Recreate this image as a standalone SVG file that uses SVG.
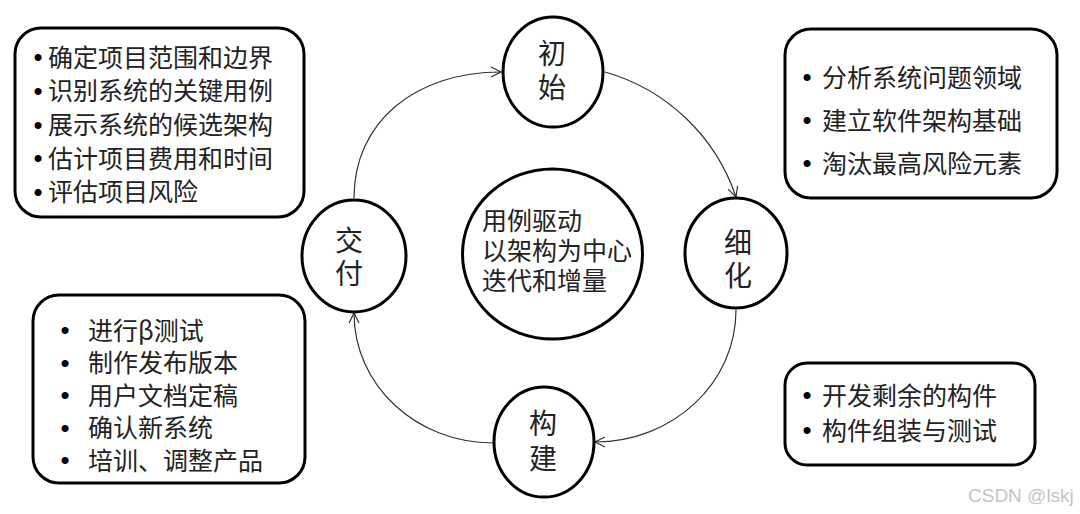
<svg xmlns="http://www.w3.org/2000/svg" width="1080" height="514" viewBox="0 0 1080 514">
<style>
.box{fill:#fff;stroke:#000;stroke-width:3}
.node{fill:#fff;stroke:#000;stroke-width:3}
.t{font-family:"Noto Sans CJK SC","Noto Sans",sans-serif;font-size:25px;fill:#222}
.lbl{font-family:"Noto Sans CJK SC","Noto Sans",sans-serif;font-size:28px;fill:#222;text-anchor:middle}
.b{font-family:"Liberation Sans",sans-serif;font-size:26px;fill:#000;text-anchor:middle}
.edge{fill:none;stroke:#333;stroke-width:1.2;marker-end:url(#arr)}
.wm{font-family:"Liberation Sans",Arial,sans-serif;font-size:19px;fill:#c4c4c4}
</style>
<defs>
<marker id="arr" viewBox="0 0 12 12" refX="11" refY="6" markerWidth="12" markerHeight="12" markerUnits="userSpaceOnUse" orient="auto">
<path d="M1,1 L11,6 L1,11" fill="none" stroke="#333" stroke-width="1.2"/>
</marker>
</defs>
<rect width="1080" height="514" fill="#fff"/>

<g id="connectors">
<path class="edge" d="M354,198 C354,122 415,72 501,72"/>
<path class="edge" d="M605,72 A194,194 0 0 1 736,197"/>
<path class="edge" d="M736,310 C736,383 673,442 595,442"/>
<path class="edge" d="M493,443 C416,443 354,385 354,313"/>
</g>

<g id="box-inception">
<rect class="box" x="15" y="28" width="289" height="189" rx="26"/>
<text class="b" x="38" y="66">•</text><text class="t" x="48" y="66.5">确定项目范围和边界</text>
<text class="b" x="38" y="100">•</text><text class="t" x="48" y="100.2">识别系统的关键用例</text>
<text class="b" x="38" y="134">•</text><text class="t" x="48" y="133.9">展示系统的候选架构</text>
<text class="b" x="38" y="167">•</text><text class="t" x="48" y="167.6">估计项目费用和时间</text>
<text class="b" x="38" y="201">•</text><text class="t" x="48" y="201.3">评估项目风险</text>
</g>

<g id="box-elaboration">
<rect class="box" x="785" y="29" width="272" height="169" rx="26"/>
<text class="b" x="807" y="86">•</text><text class="t" x="822" y="86.5">分析系统问题领域</text>
<text class="b" x="807" y="129">•</text><text class="t" x="822" y="129.5">建立软件架构基础</text>
<text class="b" x="807" y="172">•</text><text class="t" x="822" y="172.5">淘汰最高风险元素</text>
</g>

<g id="box-transition">
<rect class="box" x="33" y="295" width="272" height="188" rx="26"/>
<text class="b" x="65" y="339">•</text><text class="t" x="88" y="339.5">进行β测试</text>
<text class="b" x="65" y="372">•</text><text class="t" x="88" y="372">制作发布版本</text>
<text class="b" x="65" y="404">•</text><text class="t" x="88" y="404.7">用户文档定稿</text>
<text class="b" x="65" y="437">•</text><text class="t" x="88" y="437.3">确认新系统</text>
<text class="b" x="65" y="469">•</text><text class="t" x="88" y="470">培训、调整产品</text>
</g>

<g id="box-construction">
<rect class="box" x="785" y="363" width="250" height="102" rx="22"/>
<text class="b" x="807" y="404">•</text><text class="t" x="822" y="404.5">开发剩余的构件</text>
<text class="b" x="807" y="439">•</text><text class="t" x="822" y="439.5">构件组装与测试</text>
</g>

<g id="node-inception">
<ellipse class="node" cx="553" cy="72" rx="50" ry="55"/>
<text class="lbl" x="552" y="63.6">初</text>
<text class="lbl" x="552" y="97.6">始</text>
</g>

<g id="node-elaboration">
<ellipse class="node" cx="736" cy="253" rx="51" ry="55"/>
<text class="lbl" x="738" y="252.6">细</text>
<text class="lbl" x="738" y="285.6">化</text>
</g>

<g id="node-construction">
<ellipse class="node" cx="544" cy="442" rx="50" ry="55"/>
<text class="lbl" x="543" y="433.6">构</text>
<text class="lbl" x="543" y="468.6">建</text>
</g>

<g id="node-transition">
<ellipse class="node" cx="354" cy="256" rx="52" ry="56"/>
<text class="lbl" x="349" y="250.6">交</text>
<text class="lbl" x="349" y="283.6">付</text>
</g>

<g id="node-center">
<ellipse class="node" cx="552.5" cy="254" rx="90" ry="85"/>
<text class="t" x="482" y="229.5">用例驱动</text>
<text class="t" x="482" y="259.5">以架构为中心</text>
<text class="t" x="482" y="289.5">迭代和增量</text>
</g>

<text class="wm" x="968" y="502">CSDN @lskj</text>
</svg>
